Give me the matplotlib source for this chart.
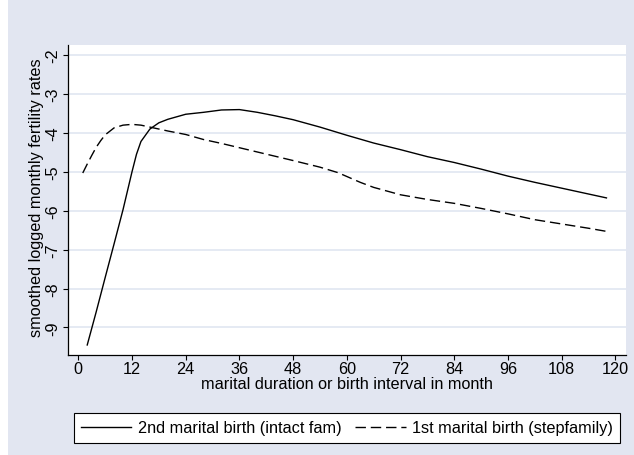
import numpy as np
import matplotlib.pyplot as plt
from matplotlib.patches import Rectangle

plt.rcParams['font.family'] = ['Liberation Sans', 'DejaVu Sans']
plt.rcParams['lines.scale_dashes'] = False

# -------------- data --------------
intact_months = [2, 4, 6, 8, 10, 12, 13, 14, 16, 18, 20, 24, 28, 32, 36, 40, 44,
                 48, 54, 60, 66, 72, 78, 84, 90, 96, 102, 108, 114, 118]
intact_rates = [-9.45, -8.6, -7.72, -6.85, -5.97, -5.0, -4.55, -4.22, -3.90, -3.74,
                -3.65, -3.52, -3.47, -3.41, -3.40, -3.47, -3.56, -3.66, -3.85, -4.06,
                -4.26, -4.43, -4.61, -4.76, -4.93, -5.11, -5.27, -5.42, -5.57, -5.67]

step_months = [1, 2, 3, 4, 5, 6, 8, 10, 12, 14, 16, 20, 24, 28, 32, 36, 40, 44, 48,
               54, 58, 60, 63, 66, 72, 78, 84, 90, 96, 102, 108, 114, 118]
step_rates = [-5.03, -4.8, -4.58, -4.37, -4.2, -4.05, -3.87, -3.80, -3.78, -3.80,
              -3.85, -3.95, -4.04, -4.17, -4.27, -4.38, -4.49, -4.60, -4.71, -4.88,
              -5.02, -5.12, -5.27, -5.40, -5.59, -5.71, -5.81, -5.94, -6.08, -6.23,
              -6.34, -6.45, -6.53]

x_ticks = list(range(0, 121, 12))
y_ticks = [-9, -8, -7, -6, -5, -4, -3, -2]
# ---------------------------------------------------------

bg = '#E2E6F1'
fs = 11.7

fig = plt.figure(figsize=(6.34, 4.56), dpi=100, facecolor=bg)
fig.patches.append(Rectangle((0, 0), 8 / 634, 1, transform=fig.transFigure,
                             facecolor='white', edgecolor='none', zorder=0))

ax = fig.add_axes([68.3 / 634, 1 - 355.7 / 456, 557.4 / 634, 309.7 / 456])
ax.set_facecolor('white')

ax.plot(intact_months, intact_rates, color='black', lw=1.0,
        label='2nd marital birth (intact fam)')
ax.plot(step_months, step_rates, color='black', lw=1.0, dashes=(7.5, 3.5),
        label='1st marital birth (stepfamily)')

ax.set_xlim(-2.23, 122.3)
ax.set_ylim(-9.70, -1.74)
ax.set_xticks(x_ticks)
ax.set_yticks(y_ticks)
ax.set_yticklabels([str(v) for v in y_ticks], rotation=90, va='center')
ax.grid(axis='y', color='#E3E8F2', lw=1.3)
ax.set_axisbelow(True)

for s in ['top', 'right']:
    ax.spines[s].set_visible(False)
for s in ['left', 'bottom']:
    ax.spines[s].set_linewidth(0.9)
ax.tick_params(axis='both', length=3.6, width=0.8, labelsize=fs, colors='black')
ax.tick_params(axis='y', pad=2.5)
ax.tick_params(axis='x', pad=1.2)

ax.set_xlabel('marital duration or birth interval in month', fontsize=fs, labelpad=-0.5)
ax.set_ylabel('smoothed logged monthly fertility rates', fontsize=fs, va='center')
ax.yaxis.set_label_coords(-0.057, 0.51)

leg = ax.legend(loc='center', bbox_to_anchor=(347 / 634, 1 - 429 / 456),
                bbox_transform=fig.transFigure, ncol=2, fontsize=fs,
                handlelength=3.1, handletextpad=0.4, columnspacing=0.85,
                borderpad=0.45, borderaxespad=0, fancybox=False, framealpha=1)
leg.get_frame().set_edgecolor('black')
leg.get_frame().set_linewidth(0.8)

plt.savefig('out.png', dpi=100, facecolor=bg)
